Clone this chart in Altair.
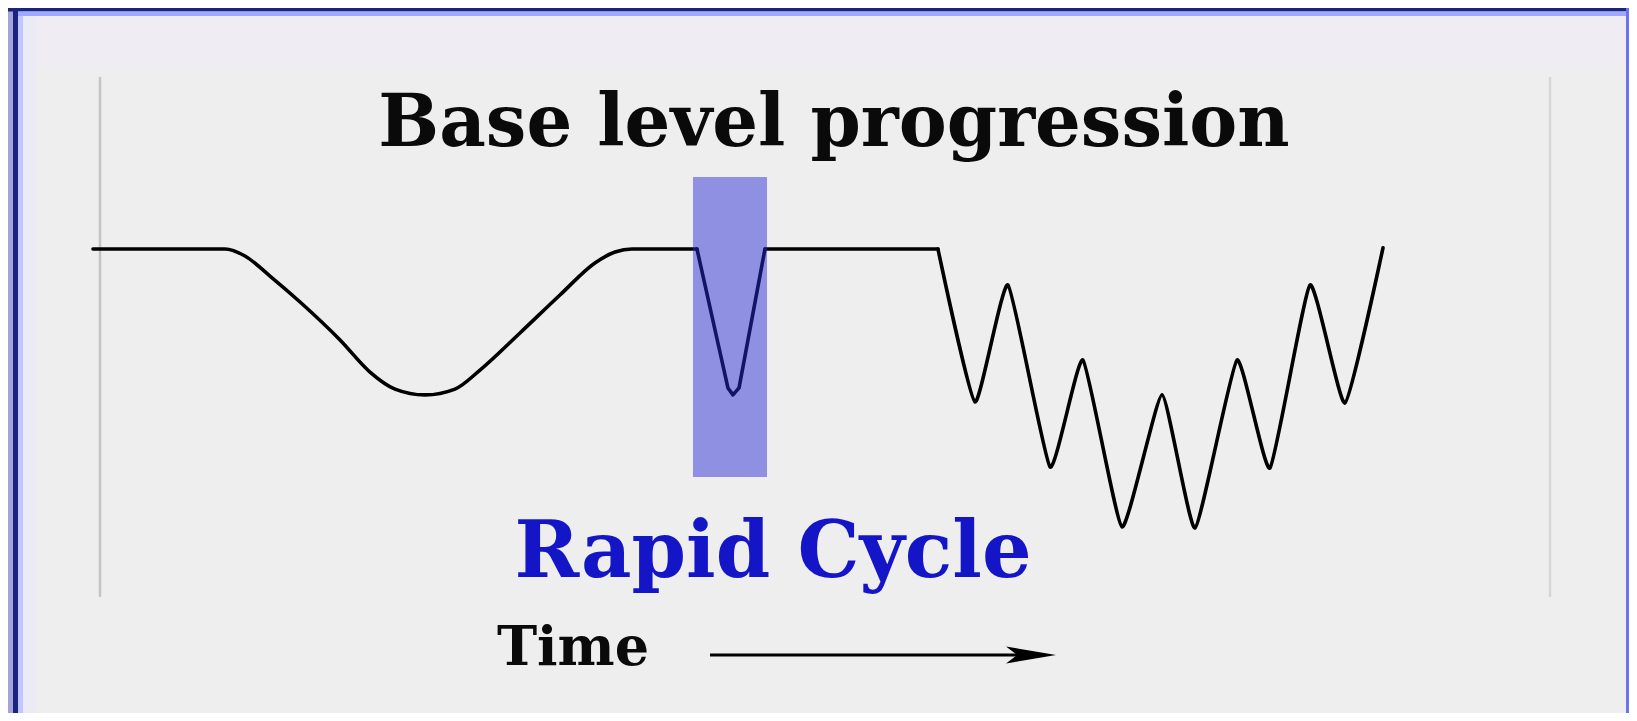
import altair as alt
import pandas as pd

# ---- data ----
# time (arbitrary units, 0 = start of curve, 100 = end) and base level (0 = stillstand)
time_t = [0, 10.23, 11.78, 13.72, 16.05, 19.15, 21.47, 23.41, 25.74, 28.06, 30.0,
          33.10, 36.20, 38.91, 40.47, 41.78,
          46.82, 49.22, 49.61, 50.08, 52.09,
          65.50, 68.37, 70.93, 74.19, 76.74, 79.77, 82.87, 85.43, 88.68, 91.24, 94.34, 97.05, 100]
base_level = [0, 0, -0.25, -0.97, -1.90, -3.26, -4.41, -5.02, -5.23, -5.02, -4.34,
              -3.01, -1.65, -0.50, -0.11, 0,
              0, -4.98, -5.23, -4.98, 0,
              0, -5.48, -1.29, -7.81, -3.98, -9.96, -5.23, -10.0, -3.98, -7.85, -1.29, -5.52, 0.04]

# phases of the curve (time ranges)
slow_phase = [0, 46.82]
rapid_phase = [46.82, 52.09]
still_phase = [52.09, 65.50]
high_freq_phase = [65.50, 100]

# highlighted rapid cycle window
rapid_start = [46.51]
rapid_end = [52.25]
rapid_top = [2.58]
rapid_bottom = [-8.17]

title_text = ["Base level progression"]
rapid_text = ["Rapid Cycle"]
time_text = ["Time"]

W, H = 1621, 705
x_scale = alt.Scale(domain=[-6.589, 119.07], nice=False, zero=False)
y_scale = alt.Scale(domain=[-16.631, 8.638], nice=False, zero=False)

curve_df = pd.DataFrame({"t": time_t, "level": base_level})
rect_df = pd.DataFrame({"t0": rapid_start, "t1": rapid_end, "l0": rapid_top, "l1": rapid_bottom})
one = pd.DataFrame({"a": [0]})

def band(x0, x1, y0, y1, color, opacity=1.0):
    return alt.Chart(one).mark_rect(color=color, opacity=opacity).encode(
        x=alt.value(x0), x2=alt.value(x1), y=alt.value(y0), y2=alt.value(y1))

frame = [
    band(0, W, 8, 58, "#efecf4"),
    band(0, 5, 0, H, "#a4a4d8"),
    band(5, 10, 0, H, "#1a2380"),
    band(10, 15, 0, H, "#c0c6ff"),
    band(15, 28, 0, H, "#ebebf6"),
    band(0, W, 0, 3.5, "#1a2380"),
    band(10, W, 3.5, 8, "#a0a8ff"),
    band(W - 3, W, 0, H, "#6c74f0"),
]

# faint inner frame lines
inner = [
    alt.Chart(one).mark_rule(color="#c4c4c4", strokeWidth=2.5).encode(
        x=alt.value(92), y=alt.value(69), y2=alt.value(589)),
    alt.Chart(one).mark_rule(color="#d6d6d6", strokeWidth=2.5).encode(
        x=alt.value(1542), y=alt.value(69), y2=alt.value(589)),
]

def phase_line(rng, **kw):
    return alt.Chart(curve_df).transform_filter(
        alt.FieldRangePredicate(field="t", range=rng)
    ).mark_line(color="black", strokeWidth=3.6, strokeJoin="round", strokeCap="round", **kw).encode(
        x=alt.X("t:Q", scale=x_scale, axis=None),
        y=alt.Y("level:Q", scale=y_scale, axis=None),
        order="t:Q",
    )

curves = [
    phase_line(slow_phase, interpolate="monotone"),
    phase_line(rapid_phase, interpolate="linear"),
    phase_line(still_phase, interpolate="linear"),
    phase_line(high_freq_phase, interpolate="cardinal", tension=0.55),
]

rapid_rect = alt.Chart(rect_df).mark_rect(color="#2a2ad8", opacity=0.48).encode(
    x=alt.X("t0:Q", scale=x_scale, axis=None), x2="t1:Q",
    y=alt.Y("l0:Q", scale=y_scale, axis=None), y2="l1:Q",
)

title = alt.Chart(pd.DataFrame({"txt": title_text})).mark_text(
    font="DejaVu Serif", fontWeight="bold", fontSize=72, color="#0a0a0a",
    align="center", baseline="alphabetic").encode(
    x=alt.value(826), y=alt.value(138), text="txt:N")

rapid = alt.Chart(pd.DataFrame({"txt": rapid_text})).mark_text(
    font="DejaVu Serif", fontWeight="bold", fontSize=78, color="#1515c8",
    align="center", baseline="alphabetic").encode(
    x=alt.value(765), y=alt.value(569), text="txt:N")

time_lbl = alt.Chart(pd.DataFrame({"txt": time_text})).mark_text(
    font="DejaVu Serif", fontWeight="bold", fontSize=54, color="#0a0a0a",
    align="center", baseline="alphabetic").encode(
    x=alt.value(565), y=alt.value(657), text="txt:N")

arrow_line = alt.Chart(one).mark_rule(color="black", strokeWidth=3.2).encode(
    x=alt.value(702), x2=alt.value(1010), y=alt.value(647))

arrow_head = alt.Chart(one).mark_point(
    shape="M -1 -0.34 L 1 0 L -1 0.34 L -0.55 0 Z", filled=True, color="black",
    opacity=1, size=2500, strokeWidth=0).encode(
    x=alt.value(1023), y=alt.value(647))

chart = alt.layer(*frame, *inner, *curves, rapid_rect, title, rapid, time_lbl,
                  arrow_line, arrow_head).properties(
    width=W, height=H, padding=0, background="#eeeeee",
    autosize=alt.AutoSizeParams(type="none"),
).configure_view(strokeWidth=0, fill="#eeeeee")

chart.save("out.html", embed_options={"renderer": "svg", "actions": False})
